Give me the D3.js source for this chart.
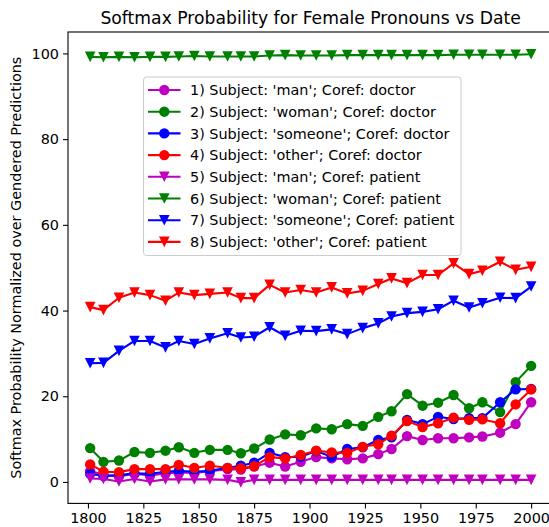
<!DOCTYPE html>
<html>
<head>
<meta charset="utf-8">
<script src="https://cdn.jsdelivr.net/npm/d3@7"></script>
<style>
  body { margin: 0; background: #fff; }
  text { font-family: "DejaVu Sans", sans-serif; }
</style>
</head>
<body>
<div id="chart"></div>
<script>
// years (x values)
var years = [1801, 1807, 1814, 1821, 1828, 1835, 1841, 1848, 1855, 1863, 1869, 1875, 1882, 1889, 1896,
             1903, 1910, 1917, 1924, 1931, 1937, 1944, 1951, 1958, 1965, 1972, 1978, 1986, 1993, 2000];

var manDoctor = [2.6, 1.6, 1.3, 1.9, 1.5, 2.0, 2.2, 2.1, 2.5, 3.0, 2.9, 3.6, 4.5, 3.6, 4.7,
                 5.8, 5.5, 5.3, 5.5, 6.5, 7.7, 10.7, 9.8, 10.2, 10.2, 10.4, 10.6, 11.5, 13.5, 18.6];
var womanDoctor = [7.9, 4.7, 5.0, 7.0, 6.8, 7.3, 8.1, 6.8, 7.5, 7.5, 6.7, 7.8, 9.9, 11.1, 10.9,
                   12.5, 12.3, 13.5, 13.1, 15.2, 16.5, 20.5, 17.8, 18.5, 20.3, 17.2, 18.6, 16.3, 23.3, 27.1];
var someoneDoctor = [1.9, 1.4, 1.6, 2.0, 1.9, 2.4, 2.6, 2.4, 2.6, 3.3, 3.8, 4.5, 6.8, 5.8, 5.9,
                     7.2, 5.9, 7.7, 8.1, 9.8, 10.4, 14.5, 13.5, 15.2, 14.7, 14.9, 14.9, 18.6, 21.6, 21.7];
var otherDoctor = [4.1, 2.4, 2.3, 3.0, 3.0, 3.0, 4.0, 3.3, 3.8, 3.3, 3.2, 3.7, 5.8, 5.5, 6.3,
                   7.3, 6.9, 6.8, 8.2, 8.8, 10.8, 14.2, 12.8, 13.7, 15.0, 14.5, 14.6, 13.7, 18.1, 21.6];
var manPatient = [0.8, 0.7, 0.1, 0.7, 0.1, 0.6, 0.6, 0.6, 0.6, 0.5, -0.1, 0.5, 0.5, 0.5, 0.5,
                  0.5, 0.5, 0.5, 0.5, 0.5, 0.5, 0.5, 0.5, 0.5, 0.5, 0.5, 0.5, 0.5, 0.5, 0.5];
var womanPatient = [99.2, 99.1, 99.2, 99.1, 99.2, 99.2, 99.3, 99.4, 99.3, 99.3, 99.3, 99.3, 99.5, 99.6, 99.5,
                    99.5, 99.5, 99.6, 99.6, 99.6, 99.6, 99.6, 99.6, 99.6, 99.7, 99.7, 99.7, 99.7, 99.7, 99.8];
var someonePatient = [27.7, 27.8, 30.6, 32.9, 32.9, 31.4, 32.9, 32.2, 33.5, 34.7, 33.7, 33.9, 36.1, 34.1, 35.3,
                      35.2, 35.6, 34.5, 35.9, 37.0, 38.6, 39.4, 39.7, 40.3, 42.3, 40.7, 41.7, 43.0, 42.9, 45.6];
var otherPatient = [40.8, 40.1, 43.0, 44.2, 43.6, 42.3, 44.2, 43.6, 43.9, 44.2, 42.9, 42.9, 46.0, 44.2, 44.8,
                    44.2, 45.4, 44.0, 44.6, 46.2, 47.5, 46.4, 48.3, 48.3, 51.0, 48.5, 49.3, 51.4, 49.5, 50.2];

var labels = [
    "1) Subject: 'man'; Coref: doctor",
    "2) Subject: 'woman'; Coref: doctor",
    "3) Subject: 'someone'; Coref: doctor",
    "4) Subject: 'other'; Coref: doctor",
    "5) Subject: 'man'; Coref: patient",
    "6) Subject: 'woman'; Coref: patient",
    "7) Subject: 'someone'; Coref: patient",
    "8) Subject: 'other'; Coref: patient"
];
var colors = ["#bf00bf", "#008000", "#0000ff", "#ff0000", "#bf00bf", "#008000", "#0000ff", "#ff0000"];
var markers = ["o", "o", "o", "o", "v", "v", "v", "v"];
var xTicks = [1800, 1825, 1850, 1875, 1900, 1925, 1950, 1975, 2000];
var yTicks = [0, 20, 40, 60, 80, 100];

var allValues = [manDoctor, womanDoctor, someoneDoctor, otherDoctor,
                 manPatient, womanPatient, someonePatient, otherPatient];

var width = 549, height = 527;
var svg = d3.select("#chart").append("svg")
    .attr("width", width)
    .attr("height", height);

var x = d3.scaleLinear().domain([1791, 2010]).range([68, 553.3]);
var y = d3.scaleLinear().domain([-5, 105]).range([503.4, 32]);

// axes
var xAxis = svg.append("g")
    .attr("transform", "translate(0," + y.range()[0] + ")")
    .call(d3.axisBottom(x).tickValues(xTicks).tickFormat(d3.format("d")).tickSize(5).tickPadding(4));
var yAxis = svg.append("g")
    .attr("transform", "translate(" + x.range()[0] + ",0)")
    .call(d3.axisLeft(y).tickValues(yTicks).tickSize(5).tickPadding(4));
[xAxis, yAxis].forEach(function (a) {
    a.select(".domain").remove();
    a.selectAll("text").attr("font-size", 14.4).attr("fill", "#000").style("font-family", "DejaVu Sans");
    a.selectAll("line").attr("stroke", "#000").attr("stroke-width", 1.1);
});

// frame
svg.append("rect")
    .attr("x", x.range()[0]).attr("y", y.range()[1])
    .attr("width", x.range()[1] - x.range()[0])
    .attr("height", y.range()[0] - y.range()[1])
    .attr("fill", "none").attr("stroke", "#000").attr("stroke-width", 1.1);

function markerPath(m) {
    if (m === "o") return d3.symbol().type(d3.symbolCircle).size(Math.PI * 27)();
    return "M0,5.3L-5.3,-5.3L5.3,-5.3Z";
}

var line = d3.line()
    .x(function (d) { return x(d[0]); })
    .y(function (d) { return y(d[1]); });

allValues.forEach(function (vals, i) {
    var pts = years.map(function (yr, j) { return [yr, vals[j]]; });
    svg.append("path")
        .datum(pts)
        .attr("d", line)
        .attr("fill", "none")
        .attr("stroke", colors[i])
        .attr("stroke-width", 2.1)
        .attr("stroke-linejoin", "round");
    svg.selectAll(".m" + i)
        .data(pts)
        .enter()
        .append("path")
        .attr("class", "m" + i)
        .attr("d", markerPath(markers[i]))
        .attr("transform", function (d) { return "translate(" + x(d[0]) + "," + y(d[1]) + ")"; })
        .attr("fill", colors[i]);
});

// title
svg.append("text")
    .attr("x", (x.range()[0] + x.range()[1]) / 2)
    .attr("y", 24)
    .attr("text-anchor", "middle")
    .attr("font-size", 17.2)
    .text("Softmax Probability for Female Pronouns vs Date");

// y label
svg.append("text")
    .attr("transform", "translate(21," + (y.range()[0] + y.range()[1]) / 2 + ") rotate(-90)")
    .attr("text-anchor", "middle")
    .attr("font-size", 14.4)
    .text("Softmax Probability Normalized over Gendered Predictions");

// legend
var lg = svg.append("g");
lg.append("rect")
    .attr("x", 143.5).attr("y", 77)
    .attr("width", 317.5).attr("height", 178.5)
    .attr("rx", 3)
    .attr("fill", "#fff").attr("fill-opacity", 0.8)
    .attr("stroke", "#cccccc").attr("stroke-width", 1);
labels.forEach(function (lab, i) {
    var cy = 90 + i * 21.7;
    lg.append("line")
        .attr("x1", 148).attr("x2", 180.5)
        .attr("y1", cy).attr("y2", cy)
        .attr("stroke", colors[i]).attr("stroke-width", 2.1);
    lg.append("path")
        .attr("d", markerPath(markers[i]))
        .attr("transform", "translate(164.3," + cy + ")")
        .attr("fill", colors[i]);
    lg.append("text")
        .attr("x", 190)
        .attr("y", cy)
        .attr("dy", "0.36em")
        .attr("font-size", 14.4)
        .text(lab);
});
</script>
</body>
</html>
